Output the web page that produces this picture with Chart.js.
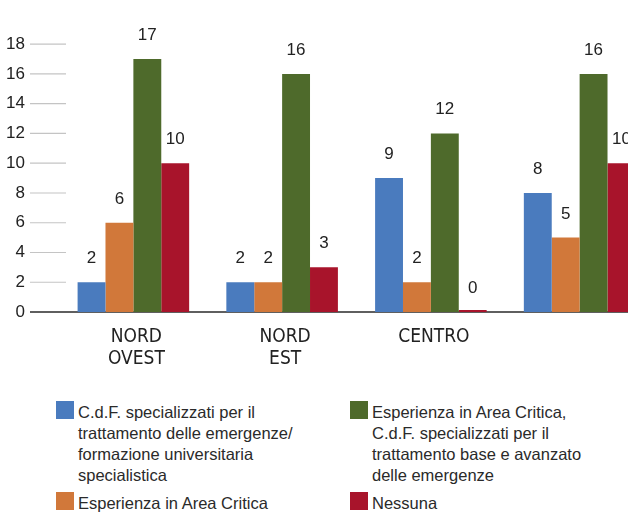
<!DOCTYPE html>
<html lang="it">
<head>
<meta charset="utf-8">
<title>Formazione per area geografica</title>
<script src="https://cdn.jsdelivr.net/npm/chart.js@4/dist/chart.umd.min.js"></script>
<style>
  html, body { margin: 0; padding: 0; background: #fff; overflow: hidden; width: 628px; height: 513px; }
  #wrap { position: relative; width: 628px; height: 513px; overflow: hidden; }
  #areaChart { position: absolute; left: 0; top: 0; }
  #legend {
    position: absolute; left: 56px; top: 401px;
    display: grid; grid-auto-flow: column; grid-template-rows: auto auto;
    grid-template-columns: 294px 270px; row-gap: 6px;
    font-family: "Liberation Sans", Arial, sans-serif; font-size: 16.5px; color: #2a2a2a;
  }
  .item { display: flex; align-items: flex-start; }
  .swatch { width: 18px; height: 18px; flex: none; margin-right: 4px; }
  .text { line-height: 21px; margin-top: 1px; white-space: nowrap; }
</style>
</head>
<body>
<div id="wrap">
  <canvas id="areaChart" width="654" height="380"></canvas>
  <div id="legend"></div>
</div>
<script>
// aree geografiche (la quarta non ha etichetta)
const regions = [["NORD", "OVEST"], ["NORD", "EST"], ["CENTRO"], [""]];

// valori per tipo di formazione
const cdfSpecialisti = [2, 2, 9, 8];
const areaCritica = [6, 2, 2, 5];
const areaCriticaCdf = [17, 16, 12, 16];
const nessuna = [10, 3, 0, 10];

const seriesNames = [
  ["C.d.F. specializzati per il", "trattamento delle emergenze/", "formazione universitaria", "specialistica"],
  ["Esperienza in Area Critica"],
  ["Esperienza in Area Critica,", "C.d.F. specializzati per il", "trattamento base e avanzato", "delle emergenze"],
  ["Nessuna"]
];
const seriesColors = ["#4a7bbe", "#d1783a", "#4e6a2b", "#a8142b"];
const seriesValues = [cdfSpecialisti, areaCritica, areaCriticaCdf, nessuna];

const numFont = '"Liberation Sans", Arial, sans-serif';
const condFont = '"DejaVu Sans Condensed", "Liberation Sans", sans-serif';

// baseline lunga e brevi tacche grigie a sinistra
const axisLines = {
  id: "axisLines",
  beforeDatasetsDraw(chart) {
    const { ctx, chartArea } = chart;
    const y = chart.scales.y;
    ctx.save();
    ctx.strokeStyle = "#c4c4c4";
    ctx.lineWidth = 1.2;
    y.ticks.forEach((t) => {
      if (t.value === 0) return;
      const py = y.getPixelForValue(t.value);
      ctx.beginPath();
      ctx.moveTo(chartArea.left - 29, py);
      ctx.lineTo(chartArea.left + 7, py);
      ctx.stroke();
    });
    const base = y.getPixelForValue(0);
    ctx.strokeStyle = "#2a2a2a";
    ctx.lineWidth = 1.5;
    ctx.beginPath();
    ctx.moveTo(chartArea.left - 29, base);
    ctx.lineTo(chartArea.right, base);
    ctx.stroke();
    ctx.restore();
  }
};

// numeri sopra le barre
const valueLabels = {
  id: "valueLabels",
  afterDatasetsDraw(chart) {
    const { ctx } = chart;
    const y = chart.scales.y;
    ctx.save();
    ctx.font = "17px " + numFont;
    ctx.fillStyle = "#222";
    ctx.textAlign = "center";
    ctx.textBaseline = "alphabetic";
    chart.data.datasets.forEach((ds, i) => {
      chart.getDatasetMeta(i).data.forEach((bar, j) => {
        const v = ds.data[j];
        ctx.fillText(String(v), bar.x, y.getPixelForValue(v) - 19);
      });
    });
    ctx.restore();
  }
};

const chart = new Chart(document.getElementById("areaChart"), {
  type: "bar",
  data: {
    labels: regions,
    datasets: seriesValues.map((vals, i) => ({
      label: seriesNames[i].join(" "),
      data: vals,
      backgroundColor: seriesColors[i],
      borderWidth: 0,
      minBarLength: i === 3 ? 2 : 0,
      categoryPercentage: 0.75,
      barPercentage: 1
    }))
  },
  options: {
    responsive: false,
    animation: false,
    layout: { padding: { top: 32, right: 0, bottom: 0, left: 0 } },
    plugins: {
      legend: { display: false },
      tooltip: { enabled: false }
    },
    scales: {
      x: {
        grid: { display: false, drawTicks: false },
        border: { display: false },
        ticks: {
          padding: 14,
          labelOffset: 3,
          color: "#222",
          font: { family: condFont, size: 19, lineHeight: 1.16 }
        },
        afterFit: (scale) => { scale.height = 68; }
      },
      y: {
        min: 0,
        max: 18,
        grid: { display: false, drawTicks: false },
        border: { display: false },
        ticks: {
          stepSize: 2,
          padding: 34,
          color: "#222",
          font: { family: numFont, size: 17 }
        },
        afterFit: (scale) => { scale.width = 59; }
      }
    }
  },
  plugins: [axisLines, valueLabels]
});

// legenda in due colonne
const legend = document.getElementById("legend");
seriesNames.forEach((lines, i) => {
  const item = document.createElement("div");
  item.className = "item";
  const sw = document.createElement("span");
  sw.className = "swatch";
  sw.style.background = seriesColors[i];
  const txt = document.createElement("div");
  txt.className = "text";
  txt.innerHTML = lines.join("<br>");
  item.appendChild(sw);
  item.appendChild(txt);
  legend.appendChild(item);
});
</script>
</body>
</html>
